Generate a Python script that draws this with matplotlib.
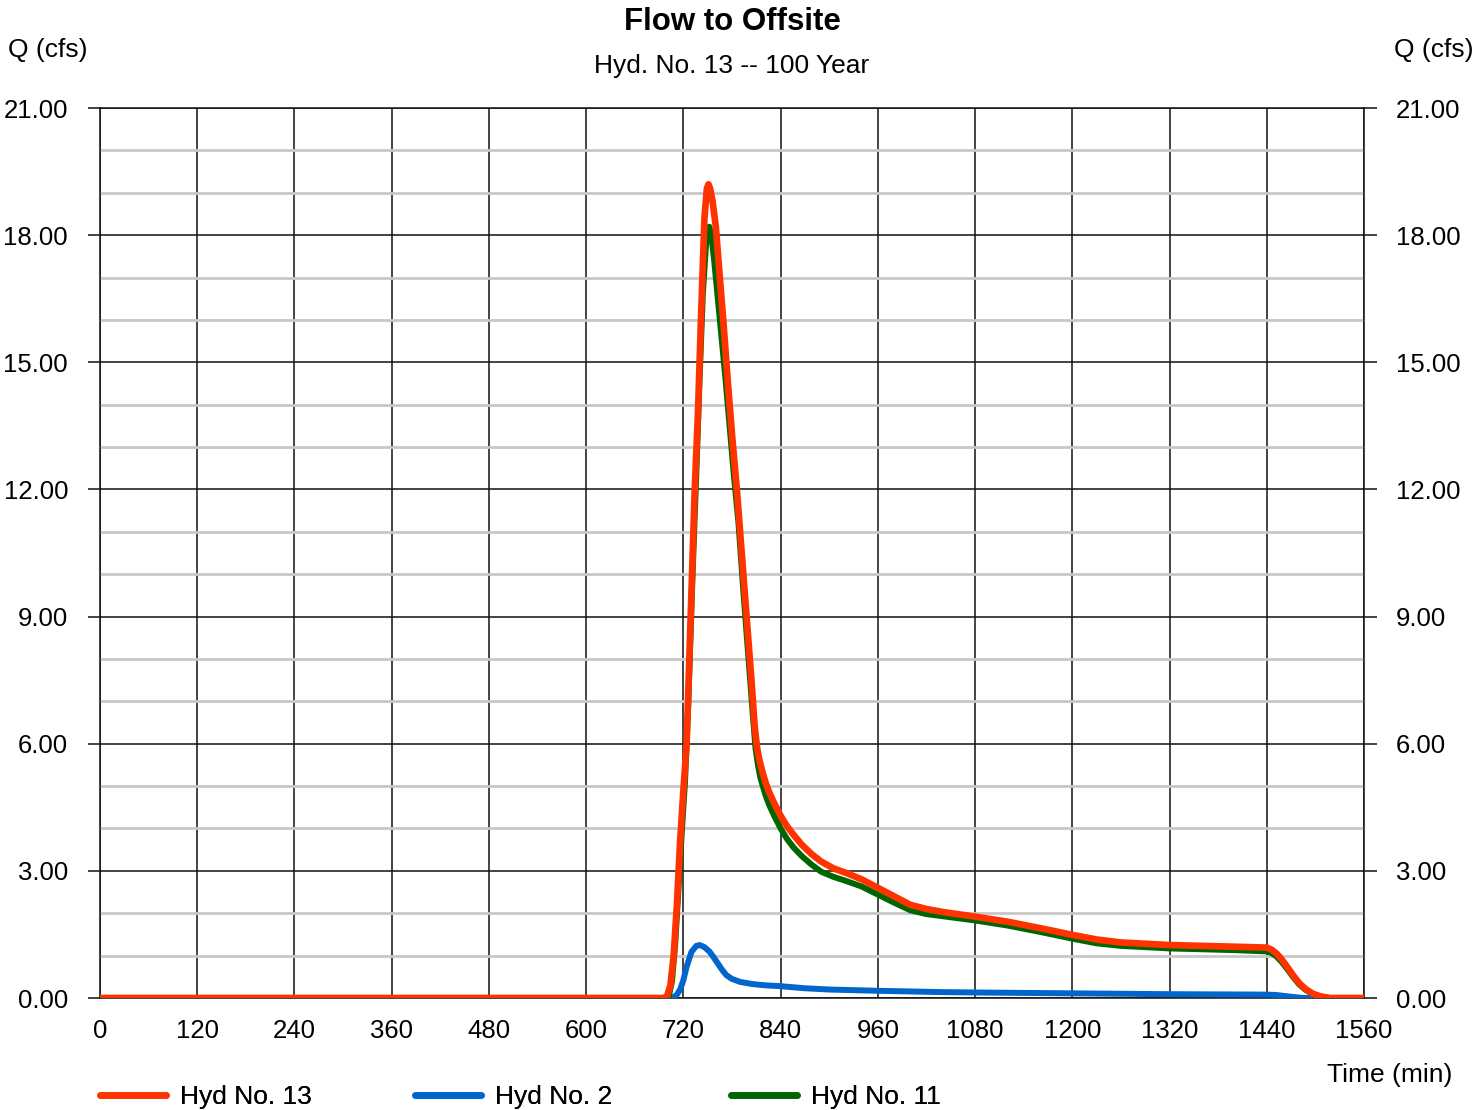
import matplotlib.pyplot as plt
from matplotlib.ticker import MultipleLocator, FixedLocator

plt.rcParams['font.family'] = ['Liberation Sans', 'DejaVu Sans']

# Hyd No. 13 (red)
hyd13_t = [0, 696, 700, 704, 708, 712, 716, 720, 724, 729, 734, 738, 742, 746, 749, 751,
           753, 756, 760, 765, 770, 775, 780, 786, 792, 798, 804, 808, 811, 814, 818, 822, 826,
           832, 840, 848, 856, 866, 878, 890, 905, 921, 940, 960, 980, 1000, 1020, 1040, 1080,
           1120, 1160, 1200, 1230, 1260, 1290, 1320, 1360, 1400, 1440, 1446, 1452, 1458, 1465,
           1472, 1480, 1488, 1497, 1506, 1518, 1560]
hyd13_q = [0, 0, 0.05, 0.3, 1.0, 2.2, 3.7, 4.9, 6.0, 9.0, 12.0, 13.8, 16.2, 18.4, 19.1, 19.2,
           19.1, 18.8, 18.2, 17.0, 15.8, 14.5, 13.3, 12.0, 10.5, 9.0, 7.5, 6.4, 5.9, 5.6, 5.3, 5.05,
           4.85, 4.6, 4.3, 4.05, 3.85, 3.62, 3.4, 3.22, 3.06, 2.95, 2.8, 2.6, 2.4, 2.2, 2.1, 2.03,
           1.92, 1.80, 1.65, 1.49, 1.38, 1.31, 1.28, 1.25, 1.23, 1.21, 1.19, 1.14, 1.05, 0.92, 0.74,
           0.55, 0.35, 0.21, 0.10, 0.04, 0.0, 0.0]

# Hyd No. 2 (blue)
hyd2_t = [0, 705, 708, 712, 716, 720, 724, 730, 736, 740, 746, 752, 757, 763, 768, 773, 780,
          790, 805, 820, 839, 870, 900, 960, 1037, 1080, 1200, 1320, 1440, 1452, 1465, 1475,
          1485, 1560]
hyd2_q = [0, 0, 0.02, 0.08, 0.2, 0.42, 0.74, 1.09, 1.23, 1.25, 1.2, 1.1, 0.97, 0.8, 0.66, 0.54,
          0.45, 0.38, 0.33, 0.3, 0.28, 0.23, 0.2, 0.17, 0.14, 0.13, 0.11, 0.09, 0.08, 0.07, 0.04,
          0.02, 0.0, 0.0]

# Hyd No. 11 (green)
hyd11_t = [0, 698, 702, 706, 710, 714, 718, 722, 726, 731, 736, 740, 744, 748, 752, 755, 758,
           762, 767, 772, 777, 782, 788, 794, 800, 806, 809, 812, 815, 818, 822, 826, 832, 840,
           848, 856, 866, 878, 890, 905, 921, 940, 960, 980, 1000, 1020, 1040, 1080, 1120, 1160,
           1200, 1230, 1260, 1290, 1320, 1360, 1400, 1440, 1446, 1452, 1458, 1465, 1472, 1480,
           1488, 1497, 1506, 1518, 1560]
hyd11_q = [0, 0, 0.04, 0.4, 1.3, 2.6, 3.9, 5.1, 6.9, 9.8, 12.4, 14.6, 16.6, 17.8, 18.2, 17.9, 17.4,
           16.6, 15.6, 14.6, 13.5, 12.4, 11.2, 9.6, 8.1, 6.6, 5.9, 5.5, 5.2, 5.0, 4.75, 4.55, 4.3,
           4.0, 3.75, 3.55, 3.35, 3.15, 2.98, 2.86, 2.76, 2.63, 2.44, 2.25, 2.07, 1.98, 1.93, 1.83,
           1.71, 1.56, 1.40, 1.29, 1.23, 1.20, 1.17, 1.15, 1.13, 1.10, 1.06, 0.98, 0.86, 0.69, 0.51,
           0.32, 0.19, 0.09, 0.03, 0.0, 0.0]

x_ticks = [0, 120, 240, 360, 480, 600, 720, 840, 960, 1080, 1200, 1320, 1440, 1560]
y_ticks = [0, 3, 6, 9, 12, 15, 18, 21]

W, H = 1475, 1110
fig = plt.figure(figsize=(W / 100, H / 100), dpi=100)
ax = fig.add_axes([100 / W, 1 - 998 / H, 1264 / W, 890 / H])

# grid
ax.set_xlim(0, 1560)
ax.set_ylim(0, 21)
ax.xaxis.set_major_locator(FixedLocator(x_ticks))
ax.yaxis.set_major_locator(FixedLocator(y_ticks))
ax.yaxis.set_minor_locator(MultipleLocator(1))
ax.grid(which='minor', axis='y', color='#c8c8c8', linewidth=2.0, zorder=0)
ax.grid(which='major', axis='both', color='#111111', linewidth=1.1, zorder=1)
ax.set_axisbelow(True)

ax.plot(hyd2_t, hyd2_q, color='#0066cc', linewidth=4.3, solid_capstyle='round',
        solid_joinstyle='round', zorder=3)
ax.plot(hyd11_t, hyd11_q, color='#006600', linewidth=4.3, solid_capstyle='round',
        solid_joinstyle='round', zorder=4)
ax.plot(hyd13_t, hyd13_q, color='#ff3300', linewidth=4.8, solid_capstyle='round',
        solid_joinstyle='round', zorder=5)

for s in ax.spines.values():
    s.set_color('#111111')
    s.set_linewidth(1.1)

ax.tick_params(axis='y', which='major', direction='out', length=9, width=1.1, color='#111111',
               labelsize=18.5, pad=14, left=True, right=True, labelleft=True, labelright=True)
ax.tick_params(axis='y', which='minor', length=0)
ax.tick_params(axis='x', which='major', length=0, labelsize=18.5, pad=15)
ax.set_yticklabels([f'{v:.2f}' for v in y_ticks])
ax.set_xticklabels([str(v) for v in x_ticks])

fig.text(732 / W, 1 - 22 / H, 'Flow to Offsite', ha='center', va='center', fontsize=22.5,
         fontweight='bold')
fig.text(732 / W, 1 - 66 / H, 'Hyd. No. 13 -- 100 Year', ha='center', va='center', fontsize=19)
fig.text(8 / W, 1 - 50 / H, 'Q (cfs)', ha='left', va='center', fontsize=19)
fig.text(1473 / W, 1 - 50 / H, 'Q (cfs)', ha='right', va='center', fontsize=19)
fig.text(1452 / W, 1 - 1075 / H, 'Time (min)', ha='right', va='center', fontsize=19)

# legend entries spaced evenly along the bottom
entries = [('Hyd No. 13', '#ff3300', 100), ('Hyd No. 2', '#0066cc', 415), ('Hyd No. 11', '#006600', 731)]
for label, color, xpos in entries:
    h = plt.Line2D([], [], color=color, linewidth=4.8, solid_capstyle='round')
    leg = fig.legend([h], [label], loc='center left', bbox_to_anchor=(xpos / W, 1 - 1097 / H),
                     frameon=False, fontsize=19, handlelength=2.5, handletextpad=0.55,
                     borderpad=0, borderaxespad=0)
    fig.add_artist(leg)

fig.savefig('out.png', dpi=100)
